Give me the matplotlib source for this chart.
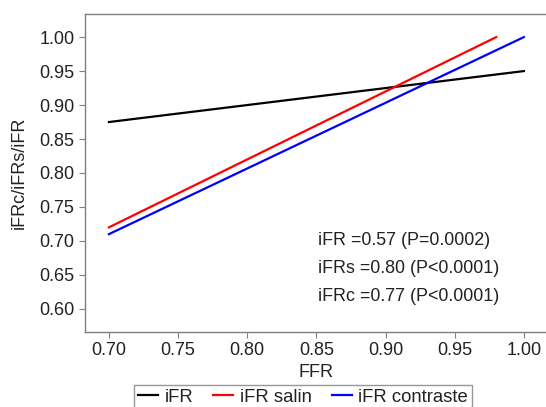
import matplotlib
matplotlib.use("Agg")
import matplotlib.pyplot as plt

plt.rcParams['font.family'] = ['Liberation Sans', 'DejaVu Sans']

series_names = ["iFR", "iFR salin", "iFR contraste"]
series_x = [[0.70, 1.00], [0.70, 0.98], [0.70, 1.00]]
series_y = [[0.875, 0.950], [0.720, 1.000], [0.710, 1.000]]
series_colors = ["black", "red", "blue"]

xticks = [0.70, 0.75, 0.80, 0.85, 0.90, 0.95, 1.00]
yticks = [0.60, 0.65, 0.70, 0.75, 0.80, 0.85, 0.90, 0.95, 1.00]
annotations = ["iFR =0.57 (P=0.0002)", "iFRs =0.80 (P<0.0001)", "iFRc =0.77 (P<0.0001)"]
annot_y = [0.700, 0.659, 0.618]

fig = plt.figure(figsize=(5.46, 4.07), dpi=100)
ax = fig.add_axes([85/546, 1-332/407, 1-85/546, (332-14)/407])

handles = []
for xs, ys, c, n in zip(series_x, series_y, series_colors, series_names):
    h, = ax.plot(xs, ys, color=c, lw=1.6, label=n)
    handles.append(h)

ax.set_xlim(0.6827, 1.016)
ax.set_ylim(0.566, 1.034)
ax.set_xticks(xticks)
ax.set_xticklabels([f"{v:.2f}" for v in xticks])
ax.set_yticks(yticks)
ax.set_yticklabels([f"{v:.2f}" for v in yticks])
ax.tick_params(labelsize=13, colors='#7f7f7f', labelcolor='#222222', length=4, width=0.8)

for s in ['left', 'bottom', 'top']:
    ax.spines[s].set_color('#7f7f7f')
    ax.spines[s].set_linewidth(1.0)
ax.spines['right'].set_visible(False)

for t, y in zip(annotations, annot_y):
    ax.text(0.851, y, t, fontsize=12.9, color='#222222', va='center', ha='left')

ax.set_xlabel("FFR", fontsize=13, color='#222222', labelpad=3)
ax.set_ylabel("iFRc/iFRs/iFR", fontsize=13, color='#222222', labelpad=8)

leg = fig.legend(handles=handles, labels=series_names, loc='upper center',
                 bbox_to_anchor=(303/546, 1-385/407), ncol=3, fontsize=13.3,
                 frameon=True, fancybox=False, edgecolor='#7f7f7f',
                 handlelength=1.08, handletextpad=0.35, columnspacing=1.1,
                 borderpad=0.2, borderaxespad=0)
leg.get_frame().set_linewidth(1.0)
for t in leg.get_texts():
    t.set_color('#222222')

fig.savefig("out.png", dpi=100)
